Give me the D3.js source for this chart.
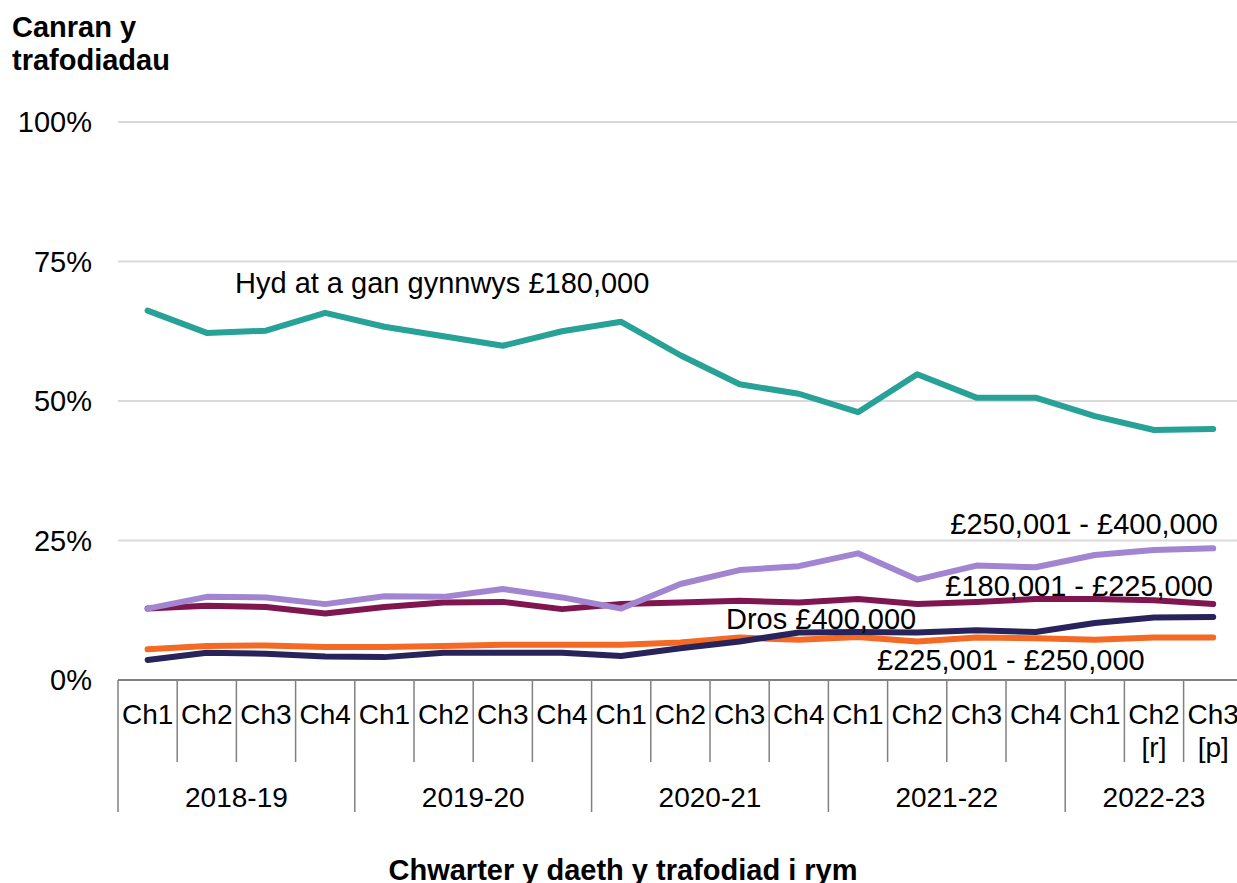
<!DOCTYPE html>
<html>
<head>
<meta charset="utf-8">
<script src="https://cdn.jsdelivr.net/npm/d3@7"></script>
<style>
  body { margin: 0; background: #fff; }
  svg { display: block; font-family: "Liberation Sans", Arial, sans-serif; }
</style>
</head>
<body>
<svg id="chart" width="1237" height="883"></svg>
<script>
// quarters (x categories) and the financial years they belong to
var quarters = ["Ch1","Ch2","Ch3","Ch4","Ch1","Ch2","Ch3","Ch4","Ch1","Ch2","Ch3","Ch4",
                "Ch1","Ch2","Ch3","Ch4","Ch1","Ch2 [r]","Ch3 [p]"];
var years = ["2018-19","2019-20","2020-21","2021-22","2022-23"];
var yearStart = [0, 4, 8, 12, 16];
var yearEnd = [4, 8, 12, 16, 19];

var yTicks = [0, 25, 50, 75, 100];

// percent of transactions per price band
var upTo180 = [66.2, 62.2, 62.6, 65.8, 63.3, 61.6, 59.9, 62.5, 64.2, 58.2, 53.0, 51.3, 48.0, 54.8, 50.6, 50.6, 47.3, 44.8, 45.0];
var band180to225 = [12.8, 13.3, 13.1, 11.9, 13.1, 13.9, 14.0, 12.7, 13.6, 13.9, 14.2, 13.9, 14.5, 13.6, 14.0, 14.5, 14.5, 14.3, 13.6];
var band225to250 = [5.5, 6.1, 6.2, 5.9, 5.9, 6.1, 6.3, 6.3, 6.3, 6.7, 7.6, 7.2, 7.7, 6.9, 7.6, 7.5, 7.2, 7.6, 7.6];
var band250to400 = [12.8, 14.9, 14.8, 13.6, 15.0, 14.9, 16.3, 14.8, 12.8, 17.2, 19.7, 20.4, 22.7, 18.0, 20.5, 20.2, 22.4, 23.3, 23.6];
var over400 = [3.6, 4.9, 4.7, 4.2, 4.1, 4.9, 4.9, 4.9, 4.3, 5.7, 6.9, 8.5, 8.6, 8.5, 8.9, 8.6, 10.2, 11.2, 11.3];

var series = [
  {name: "Hyd at a gan gynnwys £180,000", values: upTo180, color: "#28a197"},
  {name: "£180,001 - £225,000", values: band180to225, color: "#801650"},
  {name: "£225,001 - £250,000", values: band225to250, color: "#f46a25"},
  {name: "£250,001 - £400,000", values: band250to400, color: "#a285d1"},
  {name: "Dros £400,000", values: over400, color: "#28235a"}
];

var svg = d3.select("#chart");
var margin = {left: 118, top: 122};
var bandW = 59.2;
var plotBottom = 680;
var fs = 29;

var x = d3.scaleBand()
  .domain(d3.range(quarters.length))
  .range([margin.left, margin.left + bandW * quarters.length])
  .padding(0);

var y = d3.scaleLinear().domain([0, 100]).range([plotBottom, margin.top]);

// gridlines
svg.append("g").selectAll("line")
  .data(yTicks.filter(function (d) { return d > 0; }))
  .enter().append("line")
  .attr("x1", margin.left).attr("x2", 1237)
  .attr("y1", function (d) { return y(d); })
  .attr("y2", function (d) { return y(d); })
  .attr("stroke", "#d9d9d9").attr("stroke-width", 2);

// y tick labels
svg.append("g").selectAll("text")
  .data(yTicks)
  .enter().append("text")
  .attr("x", 92)
  .attr("y", function (d) { return y(d); })
  .attr("dy", "0.36em")
  .attr("text-anchor", "end")
  .attr("font-size", fs)
  .attr("fill", "#000")
  .text(function (d) { return d + "%"; });

// y title
var ttl = svg.append("text")
  .attr("x", 12).attr("y", 37)
  .attr("font-size", fs).attr("font-weight", "bold");
ttl.append("tspan").attr("x", 12).text("Canran y");
ttl.append("tspan").attr("x", 12).attr("dy", 33).text("trafodiadau");

// x axis line
svg.append("line")
  .attr("x1", margin.left).attr("x2", 1237)
  .attr("y1", plotBottom).attr("y2", plotBottom)
  .attr("stroke", "#808080").attr("stroke-width", 2);

// quarter separators
svg.append("g").selectAll("line")
  .data(d3.range(quarters.length))
  .enter().append("line")
  .attr("x1", function (i) { return x(i); })
  .attr("x2", function (i) { return x(i); })
  .attr("y1", plotBottom)
  .attr("y2", function (i) { return yearStart.indexOf(i) >= 0 ? 812 : 762; })
  .attr("stroke", "#808080").attr("stroke-width", 1.5);

// quarter labels
var ql = svg.append("g").selectAll("text")
  .data(quarters)
  .enter().append("text")
  .attr("x", function (d, i) { return x(i) + x.bandwidth() / 2; })
  .attr("y", 724)
  .attr("text-anchor", "middle")
  .attr("font-size", 28);
ql.each(function (d) {
  var parts = d.split(" ");
  var t = d3.select(this);
  t.append("tspan").text(parts[0]);
  if (parts[1]) {
    t.append("tspan")
      .attr("x", t.attr("x"))
      .attr("dy", 33)
      .text(parts[1]);
  }
});

// year labels
svg.append("g").selectAll("text")
  .data(years)
  .enter().append("text")
  .attr("x", function (d, i) { return x(yearStart[i]) + bandW * (yearEnd[i] - yearStart[i]) / 2; })
  .attr("y", 807)
  .attr("text-anchor", "middle")
  .attr("font-size", 28)
  .text(function (d) { return d; });

// x title
svg.append("text")
  .attr("x", 623).attr("y", 880)
  .attr("text-anchor", "middle")
  .attr("font-size", fs).attr("font-weight", "bold")
  .text("Chwarter y daeth y trafodiad i rym");

// lines
var line = d3.line()
  .x(function (d, i) { return x(i) + x.bandwidth() / 2; })
  .y(function (d) { return y(d); });

svg.append("g").selectAll("path")
  .data(series)
  .enter().append("path")
  .attr("d", function (d) { return line(d.values); })
  .attr("fill", "none")
  .attr("stroke", function (d) { return d.color; })
  .attr("stroke-width", 6)
  .attr("stroke-linejoin", "round")
  .attr("stroke-linecap", "round");

// series labels
var labels = [
  {text: series[0].name, x: 235, y: 293, anchor: "start"},
  {text: series[3].name, x: 1218, y: 534, anchor: "end"},
  {text: series[1].name, x: 1213, y: 596, anchor: "end"},
  {text: series[4].name, x: 726, y: 629, anchor: "start"},
  {text: series[2].name, x: 877, y: 670, anchor: "start"}
];
svg.append("g").selectAll("text")
  .data(labels)
  .enter().append("text")
  .attr("x", function (d) { return d.x; })
  .attr("y", function (d) { return d.y; })
  .attr("text-anchor", function (d) { return d.anchor; })
  .attr("font-size", fs)
  .text(function (d) { return d.text; });
</script>
</body>
</html>
